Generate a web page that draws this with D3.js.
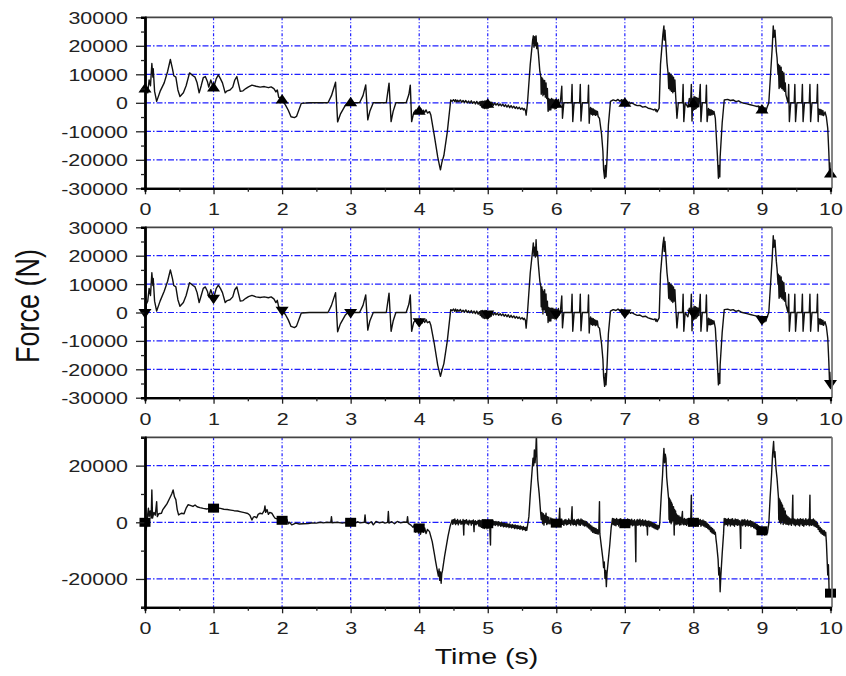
<!DOCTYPE html>
<html>
<head>
<meta charset="utf-8">
<script src="https://cdn.jsdelivr.net/npm/d3@7"></script>
<style>
  body { margin: 0; background: #fff; }
  svg { display: block; }
</style>
</head>
<body>
<svg id="chart" width="846" height="676"></svg>
<script>
// ---- tick values ----
const timeTicks = [0, 1, 2, 3, 4, 5, 6, 7, 8, 9, 10];
const timeMinorTicks = [0.5, 1.5, 2.5, 3.5, 4.5, 5.5, 6.5, 7.5, 8.5, 9.5];
const forceTicksFull = [-30000, -20000, -10000, 0, 10000, 20000, 30000];
const forceMinorFull = [-25000, -15000, -5000, 5000, 15000, 25000];
const forceTicksLower = [-20000, 0, 20000];
const forceMinorLower = [-30000, -10000, 10000, 30000];

// ---- symbol markers, one per second ----
const markerTimes = [0, 1, 2, 3, 4, 5, 6, 7, 8, 9, 10];
const markersUpper = [4800, 5200, 1000, 0, -3000, -500, -500, -200, -300, -2500, -25000];
const markersMiddle = [0, 5000, 800, 0, -3300, -500, -500, -200, -300, -2500, -25000];
const markersLower = [0, 5000, 700, 0, -2000, -500, -300, -500, 0, -3000, -25000];

// ---- force traces: [time (s), force (N)] ----
const forceUpper = [
  [0.000, 4000], [0.004, 26000], [0.008, 3000], [0.02, 5500], [0.04, 3500], [0.06, 8000], [0.08, 6000],
  [0.10, 13800], [0.115, 9000], [0.12, 12000], [0.14, 4000], [0.17, 500], [0.22, 4000], [0.28, 7000],
  [0.33, 11000], [0.37, 15200], [0.40, 12000], [0.42, 9500], [0.45, 9000], [0.48, 4500], [0.51, 2200],
  [0.56, 3500], [0.60, 6000], [0.65, 10500], [0.70, 9500], [0.73, 9000], [0.76, 7000], [0.79, 3500],
  [0.82, 6000], [0.85, 8800], [0.88, 9200], [0.91, 7500], [0.93, 5500], [0.96, 8000], [1.00, 5200],
  [1.04, 8500], [1.07, 9800], [1.10, 8500], [1.13, 7000], [1.17, 3500], [1.20, 4200], [1.24, 4500],
  [1.28, 5500], [1.31, 8000], [1.34, 9200], [1.37, 6000], [1.39, 4000], [1.43, 4200], [1.47, 5000],
  [1.51, 5600], [1.56, 6200], [1.62, 5800], [1.68, 5500], [1.74, 5700], [1.80, 5300], [1.84, 5600],
  [1.88, 5000], [1.91, 3800], [1.93, 4500], [1.95, 2000], [2.00, 1000], [2.05, -800], [2.09, -2600],
  [2.13, -4900], [2.18, -5200], [2.21, -4800], [2.28, -200], [2.40, 0], [2.67, 0], [2.72, 2500],
  [2.78, 7200], [2.81, -6700], [2.85, -4000], [2.92, -1000], [2.96, 0], [3.13, 0], [3.18, 2500],
  [3.22, 6300], [3.25, -6000], [3.28, -3000], [3.33, 0], [3.52, 0], [3.56, 6900], [3.59, -6600],
  [3.62, -3000], [3.66, 0], [3.81, 0], [3.85, 3000], [3.87, 6200], [3.89, -6600], [3.92, -3500],
  [3.95, -2500], [3.97, -3800], [3.99, -2200], [4.00, -3000], [4.02, -2000], [4.04, -3800], [4.06, -2600],
  [4.08, -3400], [4.10, -2500], [4.12, -3600], [4.15, -3100], [4.17, -4300], [4.22, -11400], [4.27, -19000],
  [4.30, -22500], [4.31, -23500], [4.33, -21000], [4.36, -18500], [4.41, -10200], [4.46, 1000],
  [4.48, 500], [4.50, 1100], [4.52, 400], [4.53, 1100], [4.55, 300], [4.56, 900], [4.58, 400], [4.60, 1000],
  [4.62, 200], [4.64, 800], [4.66, 100], [4.68, 800], [4.70, 0], [4.72, 600], [4.74, -100], [4.76, 700],
  [4.78, -200], [4.80, 400], [4.82, -400], [4.84, 500], [4.86, -500], [4.88, 300], [4.89, -900],
  [4.90, 500], [4.91, -1400], [4.92, 600], [4.93, -1800], [4.94, 500], [4.95, -2000], [4.96, 700],
  [4.97, -1900], [4.98, 600], [4.99, -2100], [5.00, 400], [5.01, -1800], [5.02, 300], [5.03, -1500],
  [5.04, 200], [5.05, -1200], [5.06, 200], [5.08, -900], [5.10, -100], [5.12, -800], [5.14, -200],
  [5.16, -1000], [5.18, -400], [5.20, -1100], [5.22, -500], [5.24, -1300], [5.26, -700], [5.28, -1500],
  [5.30, -800], [5.32, -1700], [5.34, -1000], [5.36, -1800], [5.38, -1200], [5.40, -2000], [5.42, -1400],
  [5.44, -2100], [5.46, -1600], [5.48, -2300], [5.50, -1800], [5.52, -2500], [5.53, -2000], [5.55, -2700],
  [5.56, -4300], [5.58, 0],
  [5.62, 13500], [5.655, 22000], [5.665, 23500], [5.675, 19500], [5.685, 23200], [5.695, 20000],
  [5.705, 23500], [5.715, 19000], [5.725, 21000], [5.74, 17000], [5.76, 11000],
  [5.775, 9000], [5.78, 3000], [5.79, 8800], [5.795, 3500], [5.80, 8500], [5.805, 2500], [5.81, 8000],
  [5.82, 3000], [5.83, 7800], [5.84, 2000], [5.85, 7000], [5.86, 1500], [5.87, 5000],
  [5.88, -3000], [5.89, 1500], [5.90, -2500], [5.91, 1200], [5.92, -2500], [5.93, 1500], [5.94, -1800],
  [5.95, 1300], [5.96, -1800], [5.97, 1000], [5.98, -2200], [5.99, 1200], [6.00, -2000], [6.01, 900],
  [6.02, -1500], [6.03, 1200], [6.04, -800], [6.06, 500], [6.08, 5800], [6.09, -5400], [6.11, 0], [6.22, 0],
  [6.23, 6400], [6.24, -6600], [6.26, 0], [6.34, 0], [6.35, 6400], [6.36, -6400], [6.38, 0], [6.46, 0],
  [6.47, 6200], [6.48, -7200], [6.49, -3000], [6.50, -1600], [6.51, -4000], [6.52, -2000], [6.53, -4300],
  [6.54, -2200], [6.55, -4100], [6.56, -2500], [6.57, -4400], [6.58, -2800], [6.59, -4200], [6.60, -3000],
  [6.61, -4800], [6.63, -5500], [6.66, -11000], [6.68, -17000], [6.69, -23500],
  [6.705, -26500], [6.715, -22000], [6.725, -26000], [6.74, -19600], [6.76, -7800], [6.79, 500], [6.83, 1000],
  [6.87, 700], [6.90, 1200], [6.93, 500], [6.95, 1100], [6.96, -400], [6.97, 1000], [6.98, -900],
  [6.99, 900], [7.00, -1000], [7.01, 800], [7.02, -1100], [7.03, 600], [7.04, -700], [7.06, 300],
  [7.08, -300], [7.10, 0], [7.14, -600], [7.18, -1000], [7.22, -900], [7.26, -1500], [7.30, -1300],
  [7.34, -1900], [7.38, -2100], [7.42, -2500], [7.44, -2200], [7.45, -2900], [7.46, -2400], [7.47, -3200],
  [7.50, -1900],
  [7.52, 13500], [7.555, 24000], [7.57, 27000], [7.575, 22000], [7.585, 25500], [7.60, 20000],
  [7.615, 14000], [7.63, 10500], [7.64, 5000], [7.65, 10500], [7.66, 4500], [7.67, 10000], [7.68, 4000],
  [7.69, 9500], [7.70, 3500], [7.71, 9000], [7.72, 4000], [7.73, 8000], [7.74, 3000], [7.76, -5400],
  [7.78, 0], [7.84, 0], [7.85, 6400], [7.86, -6600], [7.88, 0], [7.92, -1500], [7.94, 1500], [7.96, 0],
  [7.97, 6400], [7.98, -6400], [7.99, 1500], [8.00, -2500], [8.01, 2200], [8.02, -2300], [8.03, 2000],
  [8.04, -2000], [8.05, 1800], [8.06, -1500], [8.07, 1500], [8.08, -1000], [8.10, 6400], [8.11, -6600],
  [8.13, 0], [8.18, 0], [8.19, 6200], [8.20, -6600], [8.22, -2000], [8.23, -4300], [8.24, -2300],
  [8.25, -4300], [8.26, -2500], [8.27, -4200], [8.28, -2800], [8.29, -4000], [8.30, -3000], [8.32, -5500],
  [8.35, -18500], [8.365, -26500], [8.375, -22000], [8.385, -26000], [8.39, -19000], [8.42, -7000],
  [8.45, 1000], [8.50, 1200], [8.54, 800], [8.58, 1000], [8.62, 400], [8.66, 700], [8.70, 100],
  [8.73, -100], [8.78, -400], [8.83, -700], [8.88, -1000], [8.93, -1300], [8.95, -1100], [8.96, -2400],
  [8.97, -1300], [8.98, -3300], [8.99, -1500], [9.00, -3500], [9.01, -1600], [9.02, -3200], [9.03, -1700],
  [9.04, -3300], [9.05, -1800], [9.06, -3000], [9.07, -1900], [9.10, 0], [9.15, 19400], [9.165, 27000],
  [9.175, 23000], [9.19, 25500], [9.21, 18000], [9.22, 15900], [9.235, 10000], [9.24, 13500], [9.25, 5000],
  [9.26, 13000], [9.27, 5500], [9.28, 12500], [9.29, 5000], [9.30, 11000], [9.31, 4500], [9.32, 10500],
  [9.33, 4000], [9.34, 7000], [9.35, 2800], [9.38, 0], [9.39, 6400], [9.40, -6600], [9.42, 0], [9.47, 0],
  [9.48, 6400], [9.49, -6600], [9.51, 0], [9.58, 0], [9.59, 6400], [9.60, -6600], [9.62, 0], [9.69, 0],
  [9.70, 6400], [9.71, -6600], [9.73, 0], [9.80, 0], [9.81, 6400], [9.82, -6600], [9.83, -2200],
  [9.84, -4000], [9.85, -2300], [9.86, -4200], [9.87, -2500], [9.88, -4300], [9.89, -2800], [9.90, -4500],
  [9.92, -3200], [9.94, -5000], [9.96, -9000],
  [9.975, -17000], [9.985, -24000], [9.99, -21000], [10.0, -26000]
];

const forceMiddle = [
  [0.000, -1000], [0.004, 26000], [0.008, -1500], [0.02, 3000], [0.04, 4000], [0.06, 8500], [0.08, 6000],
  [0.10, 14000], [0.115, 9500], [0.12, 12000], [0.14, 4000], [0.17, 500], [0.22, 4000], [0.28, 7500],
  [0.33, 11000], [0.37, 15000], [0.40, 12000], [0.42, 9500], [0.45, 9000], [0.48, 4500], [0.51, 2200],
  [0.56, 3500], [0.60, 6000], [0.65, 10500], [0.70, 9500], [0.73, 9000], [0.76, 7000], [0.79, 3500],
  [0.82, 6000], [0.85, 8500], [0.88, 9000], [0.91, 7500], [0.93, 5500], [0.96, 8000], [1.00, 5000],
  [1.04, 8500], [1.07, 9600], [1.10, 8500], [1.13, 7000], [1.17, 3500], [1.20, 4200], [1.24, 4500],
  [1.28, 5500], [1.31, 8000], [1.34, 9000], [1.37, 6000], [1.39, 4000], [1.43, 4200], [1.47, 5000],
  [1.51, 5600], [1.56, 6000], [1.62, 5500], [1.68, 5300], [1.74, 5500], [1.80, 5200], [1.84, 5500],
  [1.88, 4800], [1.91, 3500], [1.93, 4300], [1.95, 2000], [2.00, 800], [2.05, -800], [2.09, -2600],
  [2.13, -4900], [2.18, -5300], [2.21, -4800], [2.28, -200], [2.40, 0], [2.67, 0], [2.72, 2500],
  [2.78, 7000], [2.81, -6800], [2.85, -4000], [2.92, -1000], [2.96, 0], [3.13, 0], [3.18, 2500],
  [3.22, 6200], [3.25, -6200], [3.28, -3000], [3.33, 0], [3.52, 0], [3.56, 6800], [3.59, -6600],
  [3.62, -3000], [3.66, 0], [3.81, 0], [3.85, 3000], [3.87, 6200], [3.89, -6600], [3.92, -3500],
  [3.95, -2500], [3.97, -3800], [3.99, -2400], [4.00, -3300], [4.02, -2200], [4.04, -3800], [4.06, -2600],
  [4.08, -3500], [4.10, -2500], [4.12, -3600], [4.15, -3200], [4.17, -4500], [4.22, -11000], [4.27, -18500],
  [4.30, -21500], [4.31, -22500], [4.33, -20500], [4.36, -18000], [4.41, -10000], [4.46, 1000],
  [4.48, 600], [4.50, 1200], [4.52, 400], [4.53, 1200], [4.55, 300], [4.56, 1000], [4.58, 400], [4.60, 1100],
  [4.62, 200], [4.64, 800], [4.66, 100], [4.68, 900], [4.70, 0], [4.72, 600], [4.74, -100], [4.76, 700],
  [4.78, -200], [4.80, 500], [4.82, -400], [4.84, 500], [4.86, -600], [4.88, 300], [4.89, -1000],
  [4.90, 600], [4.91, -1500], [4.92, 700], [4.93, -1900], [4.94, 500], [4.95, -2100], [4.96, 700],
  [4.97, -2000], [4.98, 600], [4.99, -2200], [5.00, 400], [5.01, -1900], [5.02, 300], [5.03, -1600],
  [5.04, 200], [5.05, -1300], [5.06, 200], [5.08, -900], [5.10, -100], [5.12, -800], [5.14, -200],
  [5.16, -1000], [5.18, -400], [5.20, -1100], [5.22, -500], [5.24, -1300], [5.26, -700], [5.28, -1500],
  [5.30, -800], [5.32, -1700], [5.34, -1000], [5.36, -1800], [5.38, -1200], [5.40, -2000], [5.42, -1400],
  [5.44, -2100], [5.46, -1600], [5.48, -2300], [5.50, -1800], [5.52, -2500], [5.53, -2000], [5.55, -2800],
  [5.56, -5500], [5.58, 0],
  [5.62, 14000], [5.655, 22000], [5.665, 24500], [5.675, 20000], [5.685, 23000], [5.695, 19500],
  [5.705, 25600], [5.715, 20000], [5.725, 21500], [5.74, 16500], [5.76, 11000],
  [5.775, 9000], [5.78, 2000], [5.79, 9000], [5.795, 1000], [5.80, 8000], [5.805, -500], [5.81, 7500],
  [5.82, 1000], [5.83, 8000], [5.84, 0], [5.85, 6500], [5.86, -1000], [5.87, 4000],
  [5.88, -3500], [5.89, 1800], [5.90, -3000], [5.91, 1500], [5.92, -3000], [5.93, 1500], [5.94, -2000],
  [5.95, 1500], [5.96, -2000], [5.97, 1200], [5.98, -2300], [5.99, 1200], [6.00, -2200], [6.01, 1000],
  [6.02, -1600], [6.03, 1400], [6.04, -1000], [6.06, 500], [6.08, 5800], [6.09, -5400], [6.11, 0], [6.22, 0],
  [6.23, 6400], [6.24, -6600], [6.26, 0], [6.34, 0], [6.35, 6400], [6.36, -6400], [6.38, 0], [6.46, 0],
  [6.47, 6200], [6.48, -7200], [6.49, -3000], [6.50, -1600], [6.51, -4200], [6.52, -2000], [6.53, -4500],
  [6.54, -2200], [6.55, -4300], [6.56, -2500], [6.57, -4600], [6.58, -2800], [6.59, -4400], [6.60, -3000],
  [6.61, -5000], [6.63, -5500], [6.66, -11000], [6.68, -16500], [6.69, -22500],
  [6.705, -26000], [6.715, -21500], [6.725, -25500], [6.74, -19000], [6.76, -7500], [6.79, 500], [6.83, 1000],
  [6.87, 700], [6.90, 1200], [6.93, 500], [6.95, 1100], [6.96, -500], [6.97, 1000], [6.98, -1000],
  [6.99, 900], [7.00, -1100], [7.01, 800], [7.02, -1100], [7.03, 600], [7.04, -700], [7.06, 300],
  [7.08, -300], [7.10, 0], [7.14, -600], [7.18, -1000], [7.22, -900], [7.26, -1500], [7.30, -1300],
  [7.34, -1900], [7.38, -2200], [7.42, -2500], [7.44, -2200], [7.45, -3000], [7.46, -2400], [7.47, -3200],
  [7.50, -1900],
  [7.52, 13500], [7.555, 24000], [7.57, 26500], [7.575, 21500], [7.585, 25000], [7.60, 19500],
  [7.615, 14000], [7.63, 10500], [7.64, 5000], [7.65, 10500], [7.66, 4500], [7.67, 10000], [7.68, 4000],
  [7.69, 9500], [7.70, 3500], [7.71, 9000], [7.72, 4000], [7.73, 8000], [7.74, 3000], [7.76, -5400],
  [7.78, 0], [7.84, 0], [7.85, 6400], [7.86, -6600], [7.88, 0], [7.92, -1500], [7.94, 1500], [7.96, 0],
  [7.97, 6400], [7.98, -6400], [7.99, 1500], [8.00, -2500], [8.01, 2200], [8.02, -2300], [8.03, 2000],
  [8.04, -2000], [8.05, 1800], [8.06, -1500], [8.07, 1500], [8.08, -1000], [8.10, 6400], [8.11, -6600],
  [8.13, 0], [8.18, 0], [8.19, 6200], [8.20, -6600], [8.22, -2000], [8.23, -4300], [8.24, -2300],
  [8.25, -4300], [8.26, -2500], [8.27, -4200], [8.28, -2800], [8.29, -4000], [8.30, -3000], [8.32, -5500],
  [8.35, -18000], [8.365, -25500], [8.375, -21500], [8.385, -25000], [8.39, -18500], [8.42, -7000],
  [8.45, 1000], [8.50, 1200], [8.54, 800], [8.58, 1000], [8.62, 400], [8.66, 700], [8.70, 100],
  [8.73, -100], [8.78, -400], [8.83, -700], [8.88, -1000], [8.93, -1300], [8.95, -1100], [8.96, -2500],
  [8.97, -1300], [8.98, -3400], [8.99, -1500], [9.00, -3500], [9.01, -1600], [9.02, -3300], [9.03, -1700],
  [9.04, -3300], [9.05, -1800], [9.06, -3000], [9.07, -1900], [9.10, 0], [9.15, 19400], [9.165, 27000],
  [9.175, 23000], [9.19, 25500], [9.21, 18000], [9.22, 15500], [9.235, 10000], [9.24, 13500], [9.25, 5000],
  [9.26, 13000], [9.27, 5500], [9.28, 12500], [9.29, 5000], [9.30, 11000], [9.31, 4500], [9.32, 10500],
  [9.33, 4000], [9.34, 7000], [9.35, 2800], [9.38, 0], [9.39, 6400], [9.40, -6600], [9.42, 0], [9.47, 0],
  [9.48, 6400], [9.49, -6600], [9.51, 0], [9.58, 0], [9.59, 6400], [9.60, -6600], [9.62, 0], [9.69, 0],
  [9.70, 6400], [9.71, -6600], [9.73, 0], [9.80, 0], [9.81, 6400], [9.82, -6600], [9.83, -2200],
  [9.84, -4000], [9.85, -2300], [9.86, -4200], [9.87, -2500], [9.88, -4300], [9.89, -2800], [9.90, -4500],
  [9.92, -3200], [9.94, -5000], [9.96, -9000],
  [9.975, -17000], [9.985, -24000], [9.99, -21000], [10.0, -26000]
];

const forceLower = [
  [0.000, -500], [0.003, 31000], [0.007, -3000], [0.02, -2100], [0.04, 3000], [0.05, 5000], [0.06, 2000],
  [0.075, 4000], [0.09, 1500], [0.10, 11400], [0.11, 1500], [0.13, 3500], [0.15, 2500], [0.17, 7300],
  [0.18, 2000], [0.20, 3000], [0.24, 3200], [0.26, 4500], [0.29, 5500], [0.32, 6500], [0.36, 8500],
  [0.39, 10000], [0.41, 11400], [0.43, 9000], [0.45, 8000], [0.47, 4500], [0.49, 2600], [0.53, 3200],
  [0.57, 3000], [0.60, 5000], [0.63, 6200], [0.66, 6000], [0.70, 5600], [0.73, 6100], [0.76, 5500],
  [0.80, 5200], [0.85, 4900], [0.90, 4700], [0.95, 4900], [1.00, 5100], [1.05, 5100], [1.10, 4900],
  [1.15, 4600], [1.20, 4500], [1.25, 4300], [1.30, 4100], [1.35, 4000], [1.40, 3700], [1.45, 3400],
  [1.50, 3100], [1.53, 2500], [1.56, 800], [1.58, 1800], [1.60, 2000], [1.63, 1600], [1.65, 2800],
  [1.68, 3200], [1.71, 3000], [1.74, 4200], [1.75, 5800], [1.76, 3500], [1.78, 4500], [1.80, 2800],
  [1.82, 3500], [1.85, 3200], [1.88, 2000], [1.90, 1400], [1.93, 1200], [1.96, 500], [2.00, 700],
  [2.04, 300], [2.07, 1000], [2.09, -500], [2.11, 0], [2.14, -900], [2.16, -700], [2.20, -300],
  [2.25, -600], [2.31, -500], [2.38, -400], [2.45, -200], [2.50, -300], [2.56, 0], [2.60, -200],
  [2.66, 0], [2.71, -100], [2.72, 2000], [2.73, -200], [2.80, 0], [2.88, -300], [2.92, -100], [2.97, -400],
  [3.00, 0], [3.04, 300], [3.07, -300], [3.10, 200], [3.14, -200], [3.20, 0], [3.21, 2600], [3.22, -100],
  [3.26, -500], [3.30, 200], [3.33, -900], [3.37, 300], [3.42, -200], [3.47, 100], [3.50, -300],
  [3.54, 0], [3.55, 3800], [3.56, -300], [3.60, 200], [3.64, -500], [3.68, 300], [3.73, -200], [3.78, 100],
  [3.82, 0], [3.83, 2000], [3.84, -400], [3.88, -1000], [3.91, -1800], [3.93, -900], [3.95, -3500],
  [3.97, -1200], [3.99, -3800], [4.00, -2000], [4.02, -4200], [4.04, -1500], [4.06, -3500], [4.08, -2000],
  [4.10, -4000], [4.12, -2500], [4.15, -3300], [4.19, -6800], [4.22, -11000], [4.24, -13900],
  [4.26, -16500], [4.28, -19000], [4.29, -16500], [4.30, -20500], [4.31, -17500], [4.32, -21500],
  [4.33, -18000], [4.34, -17000], [4.37, -12000], [4.39, -9200], [4.42, -5000], [4.45, -1500], [4.48, 800],
  [4.49, -700], [4.50, 900], [4.51, -300], [4.52, 1200], [4.53, -800], [4.54, 600], [4.55, -400],
  [4.56, 1000], [4.57, -900], [4.58, 500], [4.59, -200], [4.60, 800], [4.61, -700], [4.62, 300],
  [4.63, -500], [4.64, 1000], [4.65, -4500], [4.655, 600], [4.66, -800], [4.67, 700], [4.68, -300],
  [4.69, 900], [4.70, -600], [4.71, 400], [4.72, -900], [4.73, 700], [4.74, -200], [4.75, 500],
  [4.76, -1000], [4.77, 600], [4.78, -400], [4.79, 800], [4.80, -3300], [4.805, 300], [4.81, -700],
  [4.82, 600], [4.83, -900], [4.84, 200], [4.85, -500], [4.86, 700], [4.87, -1300], [4.88, 700],
  [4.89, -1500], [4.90, 600], [4.91, -1800], [4.92, 900], [4.93, -2000], [4.94, 700], [4.95, -2200],
  [4.96, 800], [4.97, -1900], [4.98, 500], [4.99, -2300], [5.00, 800], [5.01, -2000], [5.02, 600],
  [5.03, -1800], [5.04, -8000], [5.045, 400], [5.05, -1500], [5.06, 300], [5.07, -1200], [5.08, 500],
  [5.09, -900], [5.10, 200], [5.11, -1100], [5.12, 300], [5.13, -800], [5.14, 100], [5.15, -1300],
  [5.16, 200], [5.17, -1000], [5.18, -100], [5.19, -1400], [5.20, 0], [5.21, -1200], [5.22, -300],
  [5.23, -1600], [5.24, -200], [5.25, -1400], [5.26, -500], [5.27, -1700], [5.28, -400], [5.29, -1500],
  [5.30, -700], [5.31, -1900], [5.32, -600], [5.33, -1700], [5.34, -900], [5.35, -2000], [5.36, -800],
  [5.37, -1800], [5.38, -1000], [5.39, -2200], [5.40, -900], [5.41, -2000], [5.42, -1200], [5.43, -2300],
  [5.44, -1100], [5.45, -2100], [5.46, -1400], [5.47, -2500], [5.48, -1300], [5.49, -2300], [5.50, -1600],
  [5.51, -2700], [5.52, -1500], [5.53, -2500], [5.54, -1800], [5.55, -2900], [5.56, -1700], [5.57, -2800],
  [5.60, 2000], [5.62, 9600], [5.64, 16000], [5.66, 22600], [5.67, 20000], [5.68, 25500], [5.69, 21000],
  [5.70, 24500], [5.71, 31000], [5.72, 20000], [5.73, 15000], [5.75, 10200], [5.77, 3800],
  [5.78, 1000], [5.79, 3500], [5.80, -500], [5.81, 3000], [5.82, -1000], [5.83, 2500], [5.84, 0],
  [5.85, 3200], [5.86, -800], [5.87, 2000], [5.88, -500], [5.89, 1800], [5.90, -300], [5.91, -600],
  [5.92, 1500], [5.93, -300], [5.94, 1200], [5.95, -900], [5.96, 1000], [5.97, -700], [5.98, 800],
  [5.99, -1200], [6.00, 900], [6.01, -1000], [6.02, 600], [6.03, -600], [6.04, 1000], [6.05, 5000],
  [6.055, -300], [6.06, 800], [6.07, -900], [6.08, 1100], [6.09, -700], [6.10, 500], [6.11, -1100],
  [6.12, 800], [6.13, -500], [6.14, 1000], [6.15, -900], [6.16, 600], [6.17, -700], [6.18, 1200],
  [6.19, -400], [6.20, 700], [6.21, -1000], [6.22, 900], [6.23, 5500], [6.235, -600], [6.24, 800],
  [6.25, -900], [6.26, 1000], [6.27, -700], [6.28, 500], [6.29, -1200], [6.30, 900], [6.31, -500],
  [6.32, 1100], [6.33, -900], [6.34, 700], [6.35, -1100], [6.36, 1200], [6.37, -600], [6.38, 800],
  [6.39, -1000], [6.40, 600], [6.41, -1300], [6.42, 400], [6.43, -1200], [6.44, 200], [6.45, -1600],
  [6.46, -300], [6.47, -2000], [6.48, -600], [6.49, -2400], [6.50, -1000], [6.51, -3000], [6.52, -1400],
  [6.53, -3500], [6.54, -1800], [6.55, -3700], [6.56, -2000], [6.57, -3900], [6.58, -2200], [6.59, -4000],
  [6.60, -2600], [6.61, -4200], [6.62, -3000], [6.63, 7300], [6.635, -4000], [6.64, -5000],
  [6.66, -9000], [6.68, -13000], [6.69, -16000], [6.70, -14000], [6.71, -19800], [6.72, -17000],
  [6.73, -22700], [6.74, -18000], [6.76, -13000], [6.78, -8000], [6.80, -2000], [6.82, 1400],
  [6.83, -800], [6.84, 1300], [6.85, -1000], [6.86, 1000], [6.87, -1200], [6.88, 1400], [6.89, -700],
  [6.90, 900], [6.91, -1300], [6.92, 1100], [6.93, -600], [6.94, 1300], [6.95, -1000], [6.96, 700],
  [6.97, -1400], [6.98, 1000], [6.99, -1600], [7.00, 800], [7.01, -1500], [7.02, 900], [7.03, -1100],
  [7.04, 1200], [7.05, -900], [7.06, 1000], [7.07, -1300], [7.08, 700], [7.09, -800], [7.10, 1100],
  [7.11, -1200], [7.12, 600], [7.13, -1000], [7.14, 900], [7.15, -700], [7.16, -13900], [7.165, 500],
  [7.17, -900], [7.18, 1000], [7.19, -1100], [7.20, 700], [7.21, -800], [7.22, 1100], [7.23, -1300],
  [7.24, 600], [7.25, -900], [7.26, 900], [7.27, -1200], [7.28, 500], [7.29, -1000], [7.30, 700],
  [7.31, -1400], [7.32, 400], [7.33, -4500], [7.335, 300], [7.34, -1200], [7.35, 500], [7.36, -1500],
  [7.37, 200], [7.38, -1300], [7.39, 0], [7.40, -1700], [7.41, -200], [7.42, -1900], [7.43, -500],
  [7.44, -2200], [7.45, -700], [7.46, -2400], [7.47, -1000], [7.48, -2600], [7.49, -1200], [7.50, -2000],
  [7.51, 0], [7.53, 9000], [7.55, 16700], [7.56, 22000], [7.57, 26100], [7.58, 21000],
  [7.59, 24000], [7.60, 22600], [7.61, 16000], [7.62, 13200], [7.64, 7900], [7.645, 1000], [7.65, 8500],
  [7.655, 0], [7.66, 8000], [7.665, 500], [7.67, 7500], [7.675, -500], [7.68, 7000], [7.685, 0],
  [7.69, 6500], [7.70, 500], [7.71, 5500], [7.72, -4500], [7.725, 4500], [7.73, -1000], [7.74, 4000],
  [7.745, -500], [7.75, 3000], [7.76, -800], [7.77, 2500], [7.78, -500], [7.79, 2200], [7.80, -1000],
  [7.81, 1800], [7.82, -800], [7.83, 1500], [7.84, 3800], [7.845, -600], [7.85, 1200], [7.86, -900],
  [7.87, 1400], [7.88, -700], [7.89, 1000], [7.90, -1100], [7.91, 1300], [7.92, -600], [7.93, 900],
  [7.94, -1200], [7.95, 1100], [7.96, -500], [7.97, 9600], [7.975, -300], [7.98, 1000], [7.99, -1100],
  [8.00, 1300], [8.01, -800], [8.02, 900], [8.03, -1300], [8.04, 700], [8.05, -900], [8.06, 1100],
  [8.07, -1200], [8.08, 800], [8.09, -700], [8.10, 1000], [8.11, -1400], [8.12, 600], [8.13, -1000],
  [8.14, 800], [8.15, -1300], [8.16, 400], [8.17, -1600], [8.18, 200], [8.19, -1800], [8.20, -300],
  [8.21, -2200], [8.22, -800], [8.23, -2600], [8.24, -1300], [8.25, -3300], [8.26, -1800], [8.27, -3700],
  [8.28, -2200], [8.29, -4000], [8.30, -2700], [8.31, -4200], [8.32, -3500], [8.33, -6000], [8.34, -8000],
  [8.36, -13000], [8.37, -18600], [8.38, -16000], [8.39, -24500], [8.40, -19000], [8.42, -11000],
  [8.44, -4000], [8.45, 1400], [8.46, -900], [8.47, 1300], [8.48, -700], [8.49, 1000], [8.50, -1200],
  [8.51, 1400], [8.52, -600], [8.53, 900], [8.54, -1300], [8.55, 1100], [8.56, -800], [8.57, 1300],
  [8.58, -1000], [8.59, 700], [8.60, -1400], [8.61, 1200], [8.62, -700], [8.63, 900], [8.64, -1100],
  [8.65, 1000], [8.66, -900], [8.67, 600], [8.68, -1300], [8.69, -9200], [8.695, 500], [8.70, -1000],
  [8.71, 900], [8.72, -1200], [8.73, 700], [8.74, -800], [8.75, 1000], [8.76, -1400], [8.77, 500],
  [8.78, -1000], [8.79, 800], [8.80, -1300], [8.81, 400], [8.82, -1100], [8.83, 600], [8.84, -1600],
  [8.85, 300], [8.86, -1400], [8.87, 100], [8.88, -1900], [8.89, -200], [8.90, -2200], [8.91, -500],
  [8.92, -2500], [8.93, -800], [8.94, -2800], [8.95, -1200], [8.96, -3200], [8.97, -1500], [8.98, -3500],
  [8.99, -1800], [9.00, -3800], [9.01, -2000], [9.02, -4200], [9.03, -2200], [9.04, -4500], [9.05, -2500],
  [9.06, -4300], [9.07, -2800], [9.08, -3800], [9.09, -2000], [9.10, -500], [9.12, 9000],
  [9.14, 16700], [9.155, 24000], [9.17, 28500], [9.18, 23000], [9.19, 24900], [9.205, 19000],
  [9.22, 15500], [9.24, 9100], [9.245, 1000], [9.25, 8500], [9.255, 0], [9.26, 8000], [9.265, 500],
  [9.27, 7500], [9.275, -500], [9.28, 7000], [9.285, 0], [9.29, 6500], [9.295, 500], [9.30, 6000],
  [9.31, -800], [9.32, 5000], [9.33, -300], [9.34, 4000], [9.35, -700], [9.36, 2500], [9.37, -700],
  [9.38, 2000], [9.39, -900], [9.40, 1500], [9.41, -600], [9.42, 1200], [9.43, -1100], [9.44, 1000],
  [9.45, 9600], [9.455, -500], [9.46, 1300], [9.47, -900], [9.48, 1100], [9.49, -1200], [9.50, 800],
  [9.51, -700], [9.52, 1200], [9.53, -1000], [9.54, 900], [9.55, -1300], [9.56, 1300], [9.57, -600],
  [9.58, 1000], [9.59, -1100], [9.60, 1200], [9.61, -1400], [9.62, 700], [9.63, -800], [9.64, 1300],
  [9.65, -1000], [9.66, 800], [9.67, -700], [9.68, 1100], [9.69, -1200], [9.70, 9600], [9.705, -800],
  [9.71, 1000], [9.72, -1100], [9.73, 900], [9.74, -900], [9.75, 1200], [9.76, -1300], [9.77, 700],
  [9.78, -1500], [9.79, 300], [9.80, -1800], [9.81, -300], [9.82, -2500], [9.83, -1200], [9.84, -3300],
  [9.85, -1800], [9.86, -3800], [9.87, -2300], [9.88, -4200], [9.89, -2800], [9.90, -4500], [9.91, -3000],
  [9.92, -4800], [9.93, -3500], [9.94, -7000], [9.96, -18600], [9.97, -15000], [9.98, -24500],
  [10.0, -26000]
];

// ---- layout ----
const svg = d3.select("#chart");
const FONT = "'Liberation Sans', Arial, sans-serif";
const STRETCH = 1.3;        // glyphs are drawn wider than tall
const xLeft = 145, xRight = 830.5;
const plainNumber = d => String(d);   // keeps the ASCII hyphen for negatives

const panels = [
  { id: "upper", top: 17.3, bottom: 188.3, data: forceUpper, marks: markersUpper, shape: "up",
    ticks: forceTicksFull, minor: forceMinorFull },
  { id: "middle", top: 227.3, bottom: 397.7, data: forceMiddle, marks: markersMiddle, shape: "down",
    ticks: forceTicksFull, minor: forceMinorFull },
  { id: "lower", top: 437.3, bottom: 607.3, data: forceLower, marks: markersLower, shape: "square",
    ticks: forceTicksLower, minor: forceMinorLower }
];

const x = d3.scaleLinear().domain([0, 10]).range([xLeft, xRight]);

const shapes = {
  up: "M0,-6L6.5,3.5L-6.5,3.5Z",
  down: "M0,6L6.5,-3.5L-6.5,-3.5Z",
  square: "M-5.5,-4.5H5.5V4.5H-5.5Z"
};

panels.forEach(p => {
  const y = d3.scaleLinear().domain([-30000, 30000]).range([p.bottom, p.top]);
  const g = svg.append("g").attr("class", "panel-" + p.id);

  // clip region for the trace
  g.append("clipPath").attr("id", "clip-" + p.id)
    .append("rect").attr("x", xLeft).attr("y", p.top)
    .attr("width", xRight - xLeft + 1).attr("height", p.bottom - p.top);

  // grid: dash-dot blue lines
  const grid = g.append("g").attr("class", "grid")
    .attr("stroke", "#1f1fff").attr("stroke-width", 1.2).attr("fill", "none");
  grid.selectAll("line.v").data(timeTicks.slice(1, -1)).join("line")
    .attr("class", "v")
    .attr("x1", d => x(d)).attr("x2", d => x(d))
    .attr("y1", p.top).attr("y2", p.bottom)
    .attr("stroke-dasharray", "3,2,1,2");
  grid.selectAll("line.h").data(p.ticks.filter(v => v > -30000 && v < 30000)).join("line")
    .attr("class", "h")
    .attr("x1", xLeft).attr("x2", xRight)
    .attr("y1", d => y(d)).attr("y2", d => y(d))
    .attr("stroke-dasharray", "6,2,1.5,2");

  // force trace
  const line = d3.line().x(d => x(d[0])).y(d => y(d[1]));
  g.append("path")
    .datum(p.data)
    .attr("clip-path", `url(#clip-${p.id})`)
    .attr("d", line)
    .attr("fill", "none")
    .attr("stroke", "#111")
    .attr("stroke-width", 1.4)
    .attr("stroke-linejoin", "round");

  // markers at each second
  g.selectAll("path.mark").data(markerTimes.map((t, i) => [t, p.marks[i]])).join("path")
    .attr("class", "mark")
    .attr("transform", d => `translate(${x(d[0])},${y(d[1])})`)
    .attr("d", shapes[p.shape])
    .attr("fill", "#000");

  // frame: top and right in grey
  g.append("line").attr("x1", xLeft).attr("x2", xRight + 1.5).attr("y1", p.top).attr("y2", p.top)
    .attr("stroke", "#444").attr("stroke-width", 1.8);
  g.append("line").attr("x1", xRight + 1.5).attr("x2", xRight + 1.5).attr("y1", p.top).attr("y2", p.bottom)
    .attr("stroke", "#777").attr("stroke-width", 1.8);

  // left axis
  const yAxis = g.append("g").attr("transform", `translate(${xLeft},0)`)
    .call(d3.axisLeft(y).tickValues(p.ticks).tickSize(9).tickSizeOuter(0).tickFormat(plainNumber));
  yAxis.append("g").call(d3.axisLeft(y).tickValues(p.minor).tickSize(4).tickFormat(""));
  yAxis.selectAll("path.domain").attr("stroke", "#000").attr("stroke-width", 2.4);
  yAxis.selectAll(".tick line").attr("stroke", "#222").attr("stroke-width", 1.3);
  yAxis.selectAll(".tick text")
    .attr("x", null).attr("dy", "0.36em")
    .attr("transform", `translate(-17,0) scale(${STRETCH},1)`)
    .attr("font-family", FONT).attr("font-size", 16.5).attr("fill", "#222");

  // bottom axis
  const xAxis = g.append("g").attr("transform", `translate(0,${p.bottom})`)
    .call(d3.axisBottom(x).tickValues(timeTicks).tickSize(6).tickSizeOuter(0).tickFormat(plainNumber));
  xAxis.append("g").call(d3.axisBottom(x).tickValues(timeMinorTicks).tickSize(3.5).tickFormat(""));
  xAxis.selectAll("path.domain").attr("stroke", "#000").attr("stroke-width", 2.2);
  xAxis.selectAll(".tick line").attr("stroke", "#222").attr("stroke-width", 1.3);
  xAxis.selectAll(".tick text")
    .attr("y", null).attr("dy", null)
    .attr("transform", `translate(0,27) scale(${STRETCH},1)`)
    .attr("font-family", FONT).attr("font-size", 16.5).attr("fill", "#222");
});

// axis titles
svg.append("text")
  .attr("transform", `translate(27.5,306) scale(1.2,1) rotate(-90)`)
  .attr("text-anchor", "middle").attr("dominant-baseline", "central")
  .attr("font-family", FONT).attr("font-size", 27).attr("fill", "#111")
  .text("Force (N)");

svg.append("text")
  .attr("transform", `translate(486.5,664) scale(${STRETCH},1)`)
  .attr("text-anchor", "middle")
  .attr("font-family", FONT).attr("font-size", 22).attr("fill", "#111")
  .text("Time (s)");
</script>
</body>
</html>
